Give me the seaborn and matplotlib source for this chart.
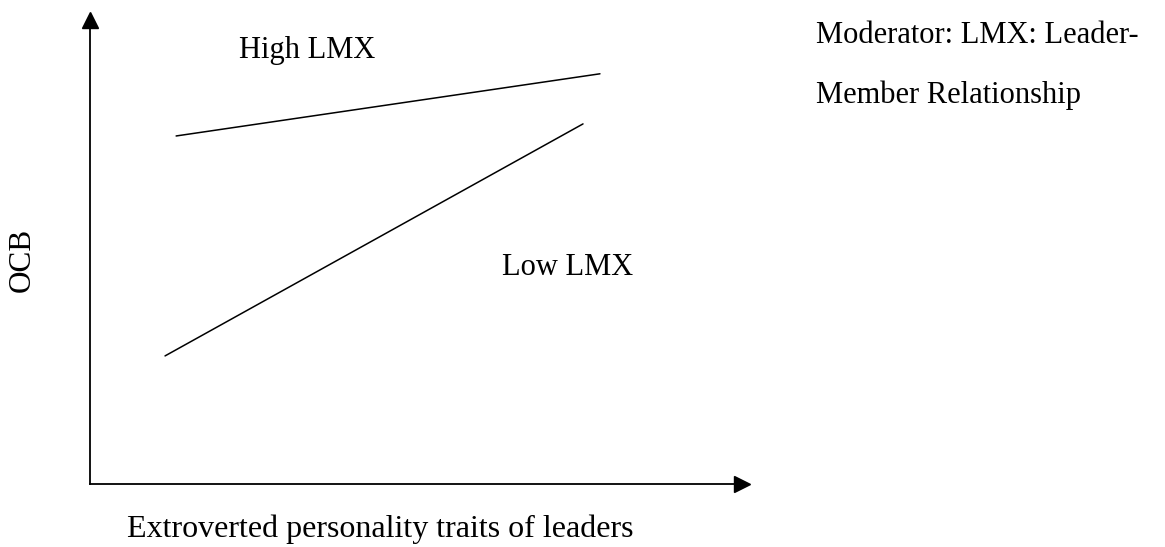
import pandas as pd
import matplotlib.pyplot as plt
import seaborn as sns

# conceptual moderation diagram: OCB vs extraversion, split by LMX
extraversion_high = [1.32, 7.82]
ocb_high = [7.50, 8.84]
extraversion_low = [1.15, 7.56]
ocb_low = [2.76, 7.76]
groups = ["High LMX", "Low LMX"]

sns.set_style("white")
plt.rcParams['font.family'] = ['Liberation Serif', 'DejaVu Serif']
plt.rcParams['text.color'] = 'black'
plt.rcParams['axes.labelcolor'] = 'black'

df = pd.DataFrame({
    'extraversion': extraversion_high + extraversion_low,
    'ocb': ocb_high + ocb_low,
    'group': [groups[0]] * 2 + [groups[1]] * 2,
})

fig = plt.figure(figsize=(11.65, 5.47), dpi=100)
ax = fig.add_axes([0.0773, 0.1152, 0.5597, 0.8483])

sns.lineplot(data=df, x='extraversion', y='ocb', units='group', estimator=None,
             color='black', linewidth=1.1, ax=ax, legend=False)

ax.set_xlim(0, 10)
ax.set_ylim(0, 10)
ax.set_xticks([])
ax.set_yticks([])
sns.despine(ax=ax)
for s in ['left', 'bottom']:
    ax.spines[s].set_linewidth(1.3)
    ax.spines[s].set_color('black')

# arrow heads
ax.plot(0, 1, marker='^', markersize=11.5, color='black', transform=ax.transAxes, clip_on=False)
ax.plot(1, 0, marker='>', markersize=11.5, color='black', transform=ax.transAxes, clip_on=False)

ax.text(3.33, 9.35, groups[0], fontsize=22, ha='center', va='center')
ax.text(7.33, 4.66, groups[1], fontsize=22, ha='center', va='center')

ax.set_xlabel('Extroverted personality traits of leaders', fontsize=23)
ax.xaxis.set_label_coords(0.445, -0.097)
ax.xaxis.label.set_va('center')
ax.set_ylabel('OCB', fontsize=22.5)
ax.yaxis.set_label_coords(-0.104, 0.483)
ax.yaxis.label.set_va('center')

fig.text(0.70, 0.935, 'Moderator: LMX: Leader-', fontsize=22, ha='left', va='center')
fig.text(0.70, 0.825, 'Member Relationship', fontsize=22, ha='left', va='center')

plt.savefig('out.png', dpi=100)
